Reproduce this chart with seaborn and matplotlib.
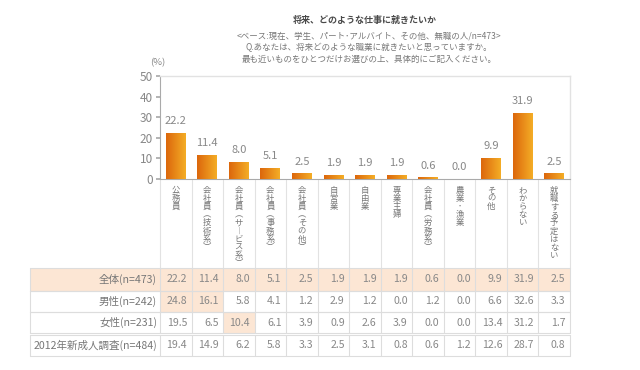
import numpy as np
import pandas as pd
import matplotlib
matplotlib.use("Agg")
import matplotlib.pyplot as plt
import seaborn as sns
from matplotlib.colors import LinearSegmentedColormap
from matplotlib.patches import Rectangle

# data
categories = ["公務員", "会社員(技術系)", "会社員(サービス系)", "会社員(事務系)", "会社員(その他)",
              "自営業", "自由業", "専業主婦", "会社員(労務系)", "農業･漁業", "その他",
              "わからない", "就職する予定はない"]
total = [22.2, 11.4, 8.0, 5.1, 2.5, 1.9, 1.9, 1.9, 0.6, 0.0, 9.9, 31.9, 2.5]
male = [24.8, 16.1, 5.8, 4.1, 1.2, 2.9, 1.2, 0.0, 1.2, 0.0, 6.6, 32.6, 3.3]
female = [19.5, 6.5, 10.4, 6.1, 3.9, 0.9, 2.6, 3.9, 0.0, 0.0, 13.4, 31.2, 1.7]
prev2012 = [19.4, 14.9, 6.2, 5.8, 3.3, 2.5, 3.1, 0.8, 0.6, 1.2, 12.6, 28.7, 0.8]
row_labels = ["全体(n=473)", "男性(n=242)", "女性(n=231)", "2012年新成人調査(n=484)"]
highlights = [(1, 0), (1, 1), (2, 2)]

sns.set_theme(style="white")
plt.rcParams["font.family"] = ["Noto Sans CJK JP", "DejaVu Sans"]

W, H = 640, 370
fig = plt.figure(figsize=(6.4, 3.7), dpi=100)
fig.patch.set_facecolor("white")

# overlay axes in pixel coords for table / labels
ov = fig.add_axes([0, 0, 1, 1])
ov.set_xlim(0, W)
ov.set_ylim(H, 0)
ov.axis("off")

x0, x1 = 160, 570
y_top, y_zero = 76, 179
n = len(categories)
cw = (x1 - x0) / n

ax = fig.add_axes([x0 / W, 1 - y_zero / H, (x1 - x0) / W, (y_zero - y_top) / H])
df = pd.DataFrame({"cat": categories, "val": total})
sns.barplot(data=df, x="cat", y="val", ax=ax, width=0.63, color="#e88a1a", saturation=1)

cmap = LinearSegmentedColormap.from_list("org", ["#dc670c", "#f4ad26"])
grad = np.linspace(0, 1, 50).reshape(1, -1)
for p, v in zip(ax.patches, total):
    bx, bw, bh = p.get_x(), p.get_width(), p.get_height()
    if bh > 0:
        ax.imshow(grad, extent=[bx, bx + bw, 0, bh], aspect="auto", cmap=cmap, zorder=3)
    p.set_visible(False)
    ax.text(bx + bw / 2, v + 3.5, f"{v:.1f}", ha="center", va="bottom", fontsize=8, color="#888888")

ax.set_xlim(-0.5, n - 0.5)
ax.set_ylim(0, 50)
ax.set_yticks(range(0, 51, 10))
ax.set_xticks([])
ax.set_xlabel("")
ax.set_ylabel("")
ax.tick_params(axis="y", colors="#aaaaaa", labelcolor="#888888", labelsize=8.5, length=3, left=True, pad=2)
for s in ["top", "right"]:
    ax.spines[s].set_color("#e2e2e2")
    ax.spines[s].set_linewidth(1)
for s in ["left", "bottom"]:
    ax.spines[s].set_color("#aaaaaa")
    ax.spines[s].set_linewidth(0.8)
ax.spines["left"].set_visible(True)
ax.spines["bottom"].set_visible(True)

# titles
ov.text(365, 20, "将来、どのような仕事に就きたいか", ha="center", va="center", fontsize=6.5,
        fontweight="bold", color="#4a4a4a")
subs = ["<ベース:現在、学生、パート･アルバイト、その他、無職の人/n=473>",
        "Q.あなたは、将来どのような職業に就きたいと思っていますか。",
        "最も近いものをひとつだけお選びの上、具体的にご記入ください。"]
for i, s in enumerate(subs):
    ov.text(369, 36 + i * 11.5, s, ha="center", va="center", fontsize=6.1, color="#777777")
ov.text(150, 63, "(%)", ha="left", va="center", fontsize=6.8, color="#888888")

# vertical category labels, one character at a time
vmap = {"(": "︵", ")": "︶", "ー": "︱"}
for i, c in enumerate(categories):
    cx = x0 + (i + 0.5) * cw
    yy = 185
    for ch in c:
        step = 8.2
        ov.text(cx, yy + step / 2, vmap.get(ch, ch), ha="center", va="center_baseline",
                fontsize=6.0, color="#777777")
        yy += step
for i in range(n + 1):
    xx = x0 + i * cw
    ov.plot([xx, xx], [180, 268], color="#e2e2e2", lw=0.8)

# table
rows = [total, male, female, prev2012]
row_y = [(268, 291), (291, 312), (312, 333), (335, 356)]
tl = 30
for r, (vals, lab, (ya, yb)) in enumerate(zip(rows, row_labels, row_y)):
    if r == 0:
        ov.add_patch(Rectangle((tl, ya), x1 - tl, yb - ya, color="#fce6d4", lw=0))
    for (hr, hc) in highlights:
        if hr == r:
            ov.add_patch(Rectangle((x0 + hc * cw, ya), cw, yb - ya, color="#fce6d4", lw=0))
    ym = (ya + yb) / 2
    ov.text(157, ym, lab, ha="right", va="center", fontsize=7.6, color="#777777")
    for i, v in enumerate(vals):
        ov.text(x0 + (i + 1) * cw - 4.5, ym, f"{v:.1f}", ha="right", va="center", fontsize=7.6, color="#888888")
    ov.plot([tl, x1], [ya, ya], color="#dddddd", lw=0.8)
    ov.plot([tl, x1], [yb, yb], color="#dddddd", lw=0.8)
    for i in range(n + 1):
        xx = x0 + i * cw
        ov.plot([xx, xx], [ya, yb], color="#dddddd", lw=0.8)
    ov.plot([tl, tl], [ya, yb], color="#dddddd", lw=0.8)

fig.savefig("out.png", dpi=100)
